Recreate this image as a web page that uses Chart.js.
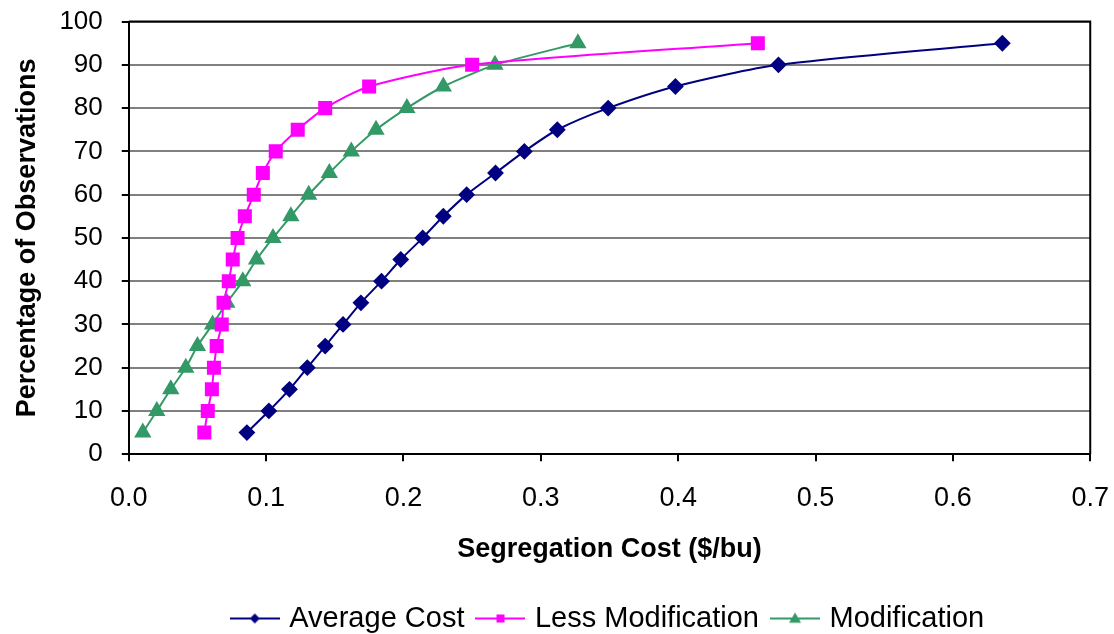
<!DOCTYPE html>
<html>
<head>
<meta charset="utf-8">
<script src="https://cdn.jsdelivr.net/npm/chart.js@4"></script>
<style>
  html, body { margin: 0; padding: 0; background: #fff; }
  #wrap { width: 1114px; height: 634px; overflow: hidden; }
</style>
</head>
<body>
<div id="wrap"><canvas id="myChart" width="1114" height="643"></canvas></div>
<script>
// percentiles (y) shared by all three series
var percents = [5, 10, 15, 20, 25, 30, 35, 40, 45, 50, 55, 60, 65, 70, 75, 80, 85, 90, 95];

// segregation cost ($/bu) at each percentile
var averageCost = [0.086, 0.102, 0.117, 0.130, 0.143, 0.156, 0.169, 0.184, 0.198, 0.214,
                   0.229, 0.246, 0.267, 0.288, 0.312, 0.349, 0.398, 0.473, 0.636];
var lessModification = [0.055, 0.0575, 0.0605, 0.062, 0.064, 0.0677, 0.069, 0.0728, 0.0757, 0.0792,
                        0.0845, 0.091, 0.0976, 0.107, 0.123, 0.143, 0.175, 0.250, 0.458];
var modification = [0.0102, 0.0204, 0.0306, 0.0415, 0.050, 0.061, 0.0714, 0.083, 0.093, 0.105,
                    0.118, 0.131, 0.146, 0.162, 0.180, 0.2025, 0.229, 0.2666, 0.327];

var xTicks = [0, 0.1, 0.2, 0.3, 0.4, 0.5, 0.6, 0.7];
var yTicks = [0, 10, 20, 30, 40, 50, 60, 70, 80, 90, 100];

function toPoints(xs) {
    return xs.map(function (x, i) { return { x: x, y: percents[i] }; });
}

// little line+marker image for the legend
function legendIcon(color, style, r) {
    var c = document.createElement('canvas');
    c.width = 50; c.height = 20;
    var g = c.getContext('2d');
    g.strokeStyle = color;
    g.fillStyle = color;
    g.lineWidth = 2;
    g.beginPath(); g.moveTo(0, 10); g.lineTo(50, 10); g.stroke();
    g.beginPath();
    if (style === 'rectRot') {
        g.moveTo(25, 10 - r); g.lineTo(25 + r, 10); g.lineTo(25, 10 + r); g.lineTo(25 - r, 10);
    } else if (style === 'rect') {
        g.rect(25 - r, 10 - r, 2 * r, 2 * r);
    } else {
        g.moveTo(25, 10 - r); g.lineTo(25 + r, 10 + r * 0.7); g.lineTo(25 - r, 10 + r * 0.7);
    }
    g.closePath(); g.fill();
    return c;
}

var navy = '#000080', pink = '#FF00FF', green = '#339966';
var font = "'Liberation Sans', Arial, sans-serif";

// box top/right edges and the short black tick marks
var frame = {
    id: 'frame',
    afterDatasetsDraw: function (chart) {
        var a = chart.chartArea, ctx = chart.ctx;
        var xs = chart.scales.x, ys = chart.scales.y;
        ctx.save();
        ctx.strokeStyle = '#000';
        ctx.lineWidth = 2;
        ctx.beginPath();
        ctx.moveTo(a.left, a.top); ctx.lineTo(a.right, a.top); ctx.lineTo(a.right, a.bottom);
        yTicks.forEach(function (v) {
            var py = Math.round(ys.getPixelForValue(v));
            ctx.moveTo(a.left - 7, py); ctx.lineTo(a.left, py);
        });
        xTicks.forEach(function (v) {
            var px = Math.round(xs.getPixelForValue(v));
            ctx.moveTo(px, a.bottom); ctx.lineTo(px, a.bottom + 7);
        });
        ctx.stroke();
        ctx.restore();
    }
};

var ctx = document.getElementById('myChart').getContext('2d');

new Chart(ctx, {
    type: 'scatter',
    data: {
        datasets: [
            {
                label: 'Average Cost',
                data: toPoints(averageCost),
                showLine: true,
                borderColor: navy,
                backgroundColor: navy,
                borderWidth: 2,
                pointStyle: 'rectRot',
                pointRadius: 7,
                pointHoverRadius: 7,
                tension: 0.25,
                legendIcon: legendIcon(navy, 'rectRot', 5)
            },
            {
                label: 'Less Modification',
                data: toPoints(lessModification),
                showLine: true,
                borderColor: pink,
                backgroundColor: pink,
                borderWidth: 2,
                pointStyle: 'rect',
                pointRadius: 8.5,
                pointHoverRadius: 8.5,
                tension: 0.25,
                legendIcon: legendIcon(pink, 'rect', 4)
            },
            {
                label: 'Modification',
                data: toPoints(modification),
                showLine: true,
                borderColor: green,
                backgroundColor: green,
                borderWidth: 2,
                pointStyle: 'triangle',
                pointRadius: 8,
                pointHoverRadius: 8,
                tension: 0.2,
                legendIcon: legendIcon(green, 'triangle', 6)
            }
        ]
    },
    options: {
        responsive: false,
        animation: false,
        layout: { padding: { top: 8, right: 4, left: 11, bottom: 0 } },
        plugins: {
            tooltip: { enabled: false },
            legend: {
                position: 'bottom',
                fullSize: false,
                labels: {
                    usePointStyle: true,
                    pointStyleWidth: 40,
                    color: '#000',
                    font: { family: font, size: 29 },
                    padding: 16,
                    generateLabels: function (chart) {
                        return chart.data.datasets.map(function (ds, i) {
                            return {
                                text: ds.label,
                                pointStyle: ds.legendIcon,
                                fillStyle: ds.borderColor,
                                strokeStyle: ds.borderColor,
                                lineWidth: 0,
                                datasetIndex: i,
                                hidden: false
                            };
                        });
                    }
                }
            }
        },
        scales: {
            x: {
                type: 'linear',
                min: 0,
                max: 0.7,
                afterBuildTicks: function (axis) {
                    axis.ticks = xTicks.map(function (v) { return { value: v }; });
                },
                ticks: {
                    color: '#000',
                    font: { family: font, size: 27 },
                    padding: 5,
                    callback: function (v) { return v.toFixed(1); }
                },
                grid: { drawOnChartArea: false, color: 'rgba(0,0,0,0)', tickColor: 'rgba(0,0,0,0)', tickLength: 23 },
                border: { color: '#000', width: 2 },
                title: {
                    display: true,
                    text: 'Segregation Cost ($/bu)',
                    color: '#000',
                    font: { family: font, size: 27, weight: 'bold' },
                    padding: { top: 14, bottom: 22 }
                }
            },
            y: {
                min: 0,
                max: 100,
                afterBuildTicks: function (axis) {
                    axis.ticks = yTicks.map(function (v) { return { value: v }; });
                },
                ticks: {
                    color: '#000',
                    font: { family: font, size: 26 },
                    padding: 6
                },
                grid: { color: '#808080', tickColor: 'rgba(0,0,0,0)', tickLength: 20, lineWidth: 2 },
                border: { color: '#000', width: 2 },
                title: {
                    display: true,
                    text: 'Percentage of Observations',
                    color: '#000',
                    font: { family: font, size: 27, weight: 'bold' },
                    padding: { top: 0, bottom: 10 }
                }
            }
        }
    },
    plugins: [frame]
});
</script>
</body>
</html>
